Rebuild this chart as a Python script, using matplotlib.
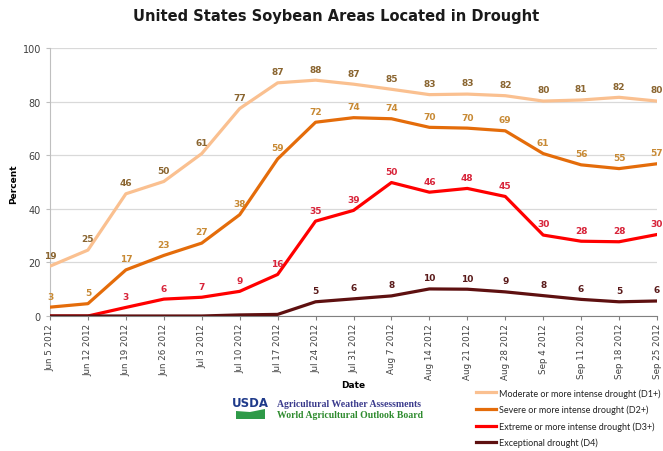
import matplotlib
matplotlib.use("Agg")
import matplotlib.pyplot as plt
from matplotlib.patches import Polygon

dates = ["Jun 5 2012", "Jun 12 2012", "Jun 19 2012", "Jun 26 2012", "Jul 3 2012",
         "Jul 10 2012", "Jul 17 2012", "Jul 24 2012", "Jul 31 2012", "Aug 7 2012",
         "Aug 14 2012", "Aug 21 2012", "Aug 28 2012", "Sep 4 2012", "Sep 11 2012",
         "Sep 18 2012", "Sep 25 2012"]

d1 = [18.6, 24.6, 45.6, 50.2, 60.6, 77.4, 87.0, 88.0, 86.5, 84.6, 82.6, 82.8, 82.2, 80.2, 80.6, 81.6, 80.2]
d2 = [3.3, 4.6, 17.2, 22.6, 27.2, 37.8, 58.6, 72.3, 74.0, 73.6, 70.4, 70.1, 69.1, 60.6, 56.4, 55.0, 56.8]
d3 = [0.0, 0.0, 3.2, 6.3, 7.0, 9.2, 15.5, 35.4, 39.4, 49.8, 46.2, 47.6, 44.6, 30.2, 27.9, 27.7, 30.4]
d4 = [0.0, 0.0, 0.0, 0.0, 0.0, 0.4, 0.6, 5.3, 6.4, 7.5, 10.1, 10.0, 9.0, 7.6, 6.2, 5.3, 5.6]

d1_labels = [19, 25, 46, 50, 61, 77, 87, 88, 87, 85, 83, 83, 82, 80, 81, 82, 80]
d2_labels = [3, 5, 17, 23, 27, 38, 59, 72, 74, 74, 70, 70, 69, 61, 56, 55, 57]
d3_labels = [None, None, 3, 6, 7, 9, 16, 35, 39, 50, 46, 48, 45, 30, 28, 28, 30]
d4_labels = [None, None, None, None, None, None, None, 5, 6, 8, 10, 10, 9, 8, 6, 5, 6]

series_names = ["Moderate or more intense drought (D1+)",
                "Severe or more intense drought (D2+)",
                "Extreme or more intense drought (D3+)",
                "Exceptional drought (D4)"]
line_colors = ["#FAC090", "#E46C0A", "#FF0000", "#5E1010"]
label_colors = ["#8A6530", "#C88A35", "#D8243A", "#5A1A1A"]

fig = plt.figure(figsize=(6.63, 4.52), dpi=100)
ax = fig.add_axes([50/663, 135/452, 607/663, 268/452])

x = list(range(len(dates)))
all_vals = [d1, d2, d3, d4]
all_labels = [d1_labels, d2_labels, d3_labels, d4_labels]
handles = []
for vals, labs, lc, tc, name in zip(all_vals, all_labels, line_colors, label_colors, series_names):
    h, = ax.plot(x, vals, color=lc, lw=2.3, solid_joinstyle="round", label=name, zorder=3)
    handles.append(h)
    for xi, v, lab in zip(x, vals, labs):
        if lab is None:
            continue
        ax.annotate(str(lab), (xi, v), xytext=(0, 8), textcoords="offset points",
                    ha="center", va="center", fontsize=6.5, fontweight="bold",
                    color=tc, zorder=4)

ax.set_xlim(0, 16)
ax.set_ylim(0, 100)
ax.set_yticks([0, 20, 40, 60, 80, 100])
ax.set_xticks(x)
ax.set_xticklabels(dates, rotation=90, fontsize=6.3, color="#404040")
ax.tick_params(axis="y", labelsize=7, colors="#404040", length=3, color="#BFBFBF")
ax.tick_params(axis="x", length=3, color="#808080", pad=2)
ax.grid(axis="y", color="#D9D9D9", lw=0.9)
ax.set_axisbelow(True)
for s in ["top", "right"]:
    ax.spines[s].set_visible(False)
ax.spines["left"].set_color("#BFBFBF")
ax.spines["bottom"].set_color("#808080")

fig.text(336/663, 1 - 17/452, "United States Soybean Areas Located in Drought",
         ha="center", va="center", fontsize=10.5, fontweight="bold", color="#1a1a1a",
         family=["Liberation Sans Narrow", "DejaVu Sans"])
fig.text(14/663, 1 - 184/452, "Percent", rotation=90, ha="center", va="center",
         fontsize=6.5, fontweight="bold")
fig.text(353/663, 1 - 385/452, "Date", ha="center", va="center",
         fontsize=6.5, fontweight="bold")

# legend
leg = fig.legend(handles=handles, loc="upper left", bbox_to_anchor=(476/663, 1 - 389/452),
                 frameon=False, handlelength=2.2, labelspacing=0.78,
                 handletextpad=0.35, borderaxespad=0, borderpad=0,
                 prop={"family": "Lato", "size": 6.5})
for t in leg.get_texts():
    t.set_color("#222222")

# USDA logo-like mark and credits
fig.text(250/663, 1 - 404/452, "USDA", ha="center", va="center", fontsize=8.5,
         fontweight="bold", color="#1F3A8A", family=["Liberation Sans Narrow", "DejaVu Sans"])
logo = Polygon([[236/663, 1 - 420/452], [265/663, 1 - 420/452], [265/663, 1 - 410/452],
                [250/663, 1 - 413/452], [236/663, 1 - 412/452]],
               closed=True, transform=fig.transFigure, facecolor="#2E9A48", edgecolor="none")
fig.patches.append(logo)
fig.text(277/663, 1 - 405/452, "Agricultural Weather Assessments", ha="left", va="center",
         fontsize=7, fontweight="bold", color="#3A3A8C", family="Liberation Serif")
fig.text(277/663, 1 - 416/452, "World Agricultural Outlook Board", ha="left", va="center",
         fontsize=7, fontweight="bold", color="#2E8B2E", family="Liberation Serif")

fig.savefig("out.png", dpi=100)
